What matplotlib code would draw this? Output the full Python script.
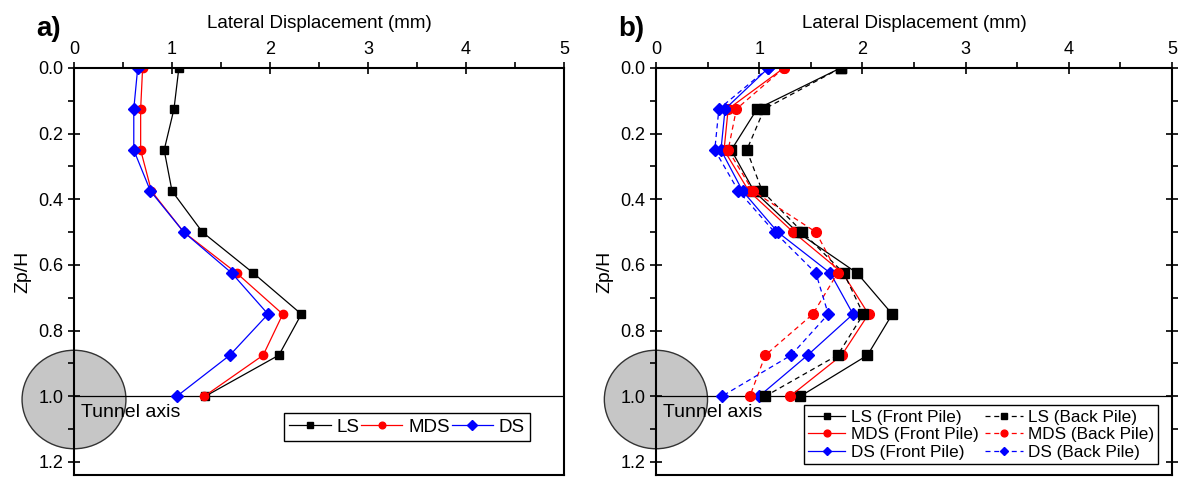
import matplotlib.pyplot as plt
from matplotlib.patches import Ellipse

plt.rcParams['font.family'] = ['Liberation Sans', 'DejaVu Sans']

# depth ratio Zp/H
zp = [0.0, 0.125, 0.25, 0.375, 0.5, 0.625, 0.75, 0.875, 1.0]

# panel a) single pile
ls_a = [1.07, 1.02, 0.92, 1.00, 1.31, 1.83, 2.32, 2.09, 1.34]
mds_a = [0.70, 0.68, 0.68, 0.79, 1.12, 1.66, 2.13, 1.93, 1.33]
ds_a = [0.65, 0.61, 0.61, 0.78, 1.12, 1.61, 1.98, 1.59, 1.05]

# panel b) pile group
ls_front = [1.79, 0.98, 0.73, 0.95, 1.37, 1.95, 2.29, 2.05, 1.40]
ls_back = [1.79, 1.05, 0.88, 1.03, 1.42, 1.82, 2.01, 1.76, 1.06]
mds_front = [1.24, 0.70, 0.66, 0.90, 1.33, 1.81, 2.06, 1.80, 1.30]
mds_back = [1.24, 0.78, 0.70, 0.94, 1.55, 1.76, 1.52, 1.06, 0.91]
ds_front = [1.09, 0.67, 0.63, 0.84, 1.18, 1.69, 1.91, 1.47, 1.00]
ds_back = [1.09, 0.61, 0.57, 0.80, 1.15, 1.55, 1.67, 1.31, 0.64]

fig = plt.figure(figsize=(11.84, 4.8), dpi=100)
ax1 = fig.add_axes([0.0625, 0.0104, 0.4139, 0.848])
ax2 = fig.add_axes([0.554, 0.0104, 0.4358, 0.848])


def style_axis(ax, tunnel_w, right_ticks):
    ax.set_xlim(0, 5)
    ax.set_ylim(1.24, 0)
    ax.xaxis.tick_top()
    ax.xaxis.set_label_position('top')
    ax.set_xticks([0, 1, 2, 3, 4, 5])
    ax.set_xticks([0.5, 1.5, 2.5, 3.5, 4.5], minor=True)
    ax.set_yticks([0.0, 0.2, 0.4, 0.6, 0.8, 1.0, 1.2])
    ax.set_yticks([0.1, 0.3, 0.5, 0.7, 0.9, 1.1], minor=True)
    ax.set_yticklabels(['0.0', '0.2', '0.4', '0.6', '0.8', '1.0', '1.2'])
    ax.tick_params(which='major', direction='inout', length=8, width=1.2,
                   labelsize=13, right=right_ticks)
    ax.tick_params(which='minor', direction='out', length=4, width=1.2,
                   right=right_ticks)
    ax.set_xlabel('Lateral Displacement (mm)', fontsize=13.5, labelpad=9)
    ax.set_ylabel('Zp/H', fontsize=14, labelpad=5)
    for s in ax.spines.values():
        s.set_linewidth(1.5)
    ax.axhline(1.0, color='black', lw=0.9, zorder=1)
    circ = Ellipse((0, 1.01), tunnel_w, 0.30, facecolor='#c6c6c6',
                   edgecolor='#333333', lw=1.0, clip_on=False, zorder=0)
    ax.add_patch(circ)
    ax.text(0.07, 1.05, 'Tunnel axis', fontsize=14, va='center', ha='left')


style_axis(ax1, 1.06, False)
style_axis(ax2, 1.0, True)

ax1.plot(ls_a, zp, color='black', lw=0.9, marker='s', ms=6, label='LS')
ax1.plot(mds_a, zp, color='red', lw=0.9, marker='o', ms=6, label='MDS')
ax1.plot(ds_a, zp, color='blue', lw=0.9, marker='D', ms=6, label='DS')
ax1.legend(loc='lower right', bbox_to_anchor=(0.95, 0.06), ncol=3,
           fontsize=13.5, frameon=True, fancybox=False, edgecolor='black',
           framealpha=1, handlelength=2.2, handletextpad=0.3,
           columnspacing=0.1, borderpad=0.3, markerscale=0.8)

dash = (0, (4, 3))
h = []
h += ax2.plot(ls_front, zp, color='black', lw=0.9, marker='s', ms=7, label='LS (Front Pile)')
h += ax2.plot(mds_front, zp, color='red', lw=0.9, marker='o', ms=7, label='MDS (Front Pile)')
h += ax2.plot(ds_front, zp, color='blue', lw=0.9, marker='D', ms=6, label='DS (Front Pile)')
h += ax2.plot(ls_back, zp, color='black', lw=0.9, ls=dash, marker='s', ms=7, label='LS (Back Pile)')
h += ax2.plot(mds_back, zp, color='red', lw=0.9, ls=dash, marker='o', ms=7, label='MDS (Back Pile)')
h += ax2.plot(ds_back, zp, color='blue', lw=0.9, ls=dash, marker='D', ms=6, label='DS (Back Pile)')
ax2.legend(handles=h, loc='lower right', bbox_to_anchor=(0.99, 0.006), ncol=2,
           fontsize=12.3, frameon=True, fancybox=False, edgecolor='black',
           framealpha=1, handlelength=2.2, handletextpad=0.3,
           columnspacing=0.4, borderpad=0.25, labelspacing=0.15, markerscale=0.7)

fig.text(0.031, 0.925, 'a)', fontsize=20, fontweight='bold')
fig.text(0.522, 0.925, 'b)', fontsize=20, fontweight='bold')

fig.savefig('out.png', dpi=100)
